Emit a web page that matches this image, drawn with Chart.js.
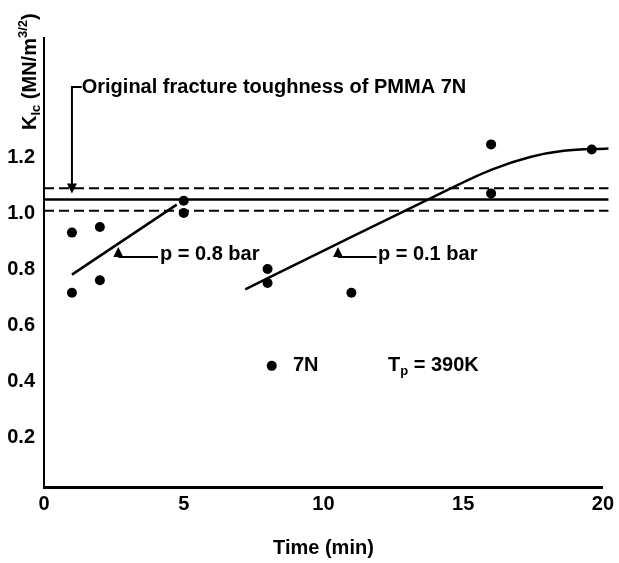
<!DOCTYPE html>
<html>
<head>
<meta charset="utf-8">
<script src="https://cdn.jsdelivr.net/npm/chart.js@4.4.1/dist/chart.umd.min.js"></script>
<style>
  html, body { margin: 0; padding: 0; background: #fff; }
  canvas { display: block; }
</style>
</head>
<body>
<canvas id="kicChart" width="619" height="563"></canvas>
<script>
// K_Ic of PMMA 7N against time, Tp = 390K
const xTicks = [0, 5, 10, 15, 20];
const yTicks = [0.2, 0.4, 0.6, 0.8, 1.0, 1.2];

// measured points, p = 0.8 bar
const lowTimes = [1, 1, 2, 2, 5, 5];
const lowKic = [0.93, 0.715, 0.95, 0.76, 1.044, 1.0];

// measured points, p = 0.1 bar
const highTimes = [8, 8, 11, 16, 16, 19.6];
const highKic = [0.8, 0.75, 0.715, 1.245, 1.07, 1.227];

// fitted trend lines
const fitLowTimes = [1, 4.75];
const fitLowKic = [0.78, 1.03];
const fitHighTimes = [7.2, 10.5, 13.7, 16, 17.4, 18.6, 20.2];
const fitHighKic = [0.727, 0.89, 1.046, 1.154, 1.2, 1.222, 1.23];

// original fracture toughness band
const bandTimes = [0, 20.2];
const bandMid = [1.048, 1.048];
const bandUpper = [1.088, 1.088];
const bandLower = [1.008, 1.008];

const FONT = "'Liberation Sans', Arial, sans-serif";

function toPoints(xs, ys) {
  return xs.map((t, i) => ({ x: t, y: ys[i] }));
}

function lineSet(xs, ys, dash, width) {
  return {
    data: toPoints(xs, ys),
    showLine: true,
    borderColor: "#000",
    borderWidth: width,
    borderDash: dash,
    pointRadius: 0,
    clip: false,
  };
}

function dotSet(xs, ys) {
  return {
    data: toPoints(xs, ys),
    showLine: false,
    pointRadius: 5,
    pointBackgroundColor: "#000",
    pointBorderColor: "#000",
    borderWidth: 0,
  };
}

function triangleUp(ctx, tx, ty, h, w) {
  ctx.beginPath();
  ctx.moveTo(tx, ty);
  ctx.lineTo(tx - w / 2, ty + h);
  ctx.lineTo(tx + w / 2, ty + h);
  ctx.closePath();
  ctx.fill();
}

// arrows, labels and the little key inside the plot
const annotations = {
  id: "annotations",
  afterDatasetsDraw(chart) {
    const { ctx, scales: { x, y } } = chart;
    ctx.save();
    ctx.fillStyle = "#000";
    ctx.strokeStyle = "#000";
    ctx.lineWidth = 2;
    ctx.font = "bold 20px " + FONT;
    ctx.textBaseline = "middle";
    ctx.textAlign = "left";

    // original toughness arrow
    const ax = x.getPixelForValue(1);
    const aTop = y.getPixelForValue(1.45);
    const aTip = y.getPixelForValue(1.07);
    ctx.beginPath();
    ctx.moveTo(x.getPixelForValue(1.35), aTop);
    ctx.lineTo(ax, aTop);
    ctx.lineTo(ax, aTip - 8);
    ctx.stroke();
    ctx.beginPath();
    ctx.moveTo(ax, aTip);
    ctx.lineTo(ax - 5, aTip - 10);
    ctx.lineTo(ax + 5, aTip - 10);
    ctx.closePath();
    ctx.fill();
    ctx.fillText("Original fracture toughness of PMMA 7N", x.getPixelForValue(1.35), aTop);

    // pressure labels
    const tags = [
      { tx: 2.66, ty: 0.879, lineEnd: 4.08, textX: 4.15, text: "p = 0.8 bar" },
      { tx: 10.52, ty: 0.879, lineEnd: 11.9, textX: 11.95, text: "p = 0.1 bar" },
    ];
    tags.forEach((t) => {
      const px = x.getPixelForValue(t.tx);
      const py = y.getPixelForValue(t.ty);
      triangleUp(ctx, px, py, 10, 10);
      ctx.beginPath();
      ctx.moveTo(px, py + 10);
      ctx.lineTo(x.getPixelForValue(t.lineEnd), py + 10);
      ctx.stroke();
      ctx.fillText(t.text, x.getPixelForValue(t.textX), py + 8);
    });

    // key
    const ky = y.getPixelForValue(0.454);
    ctx.beginPath();
    ctx.arc(x.getPixelForValue(8.15), ky, 5, 0, Math.PI * 2);
    ctx.fill();
    ctx.fillText("7N", x.getPixelForValue(8.91), ky);
    let tx = x.getPixelForValue(12.31);
    ctx.fillText("T", tx, ky);
    tx += ctx.measureText("T").width;
    ctx.font = "bold 13px " + FONT;
    ctx.fillText("p", tx, ky + 6);
    tx += ctx.measureText("p").width;
    ctx.font = "bold 20px " + FONT;
    ctx.fillText(" = 390K", tx, ky);

    // y axis title, rotated
    const area = chart.chartArea;
    ctx.translate(area.left - 8, area.top + 92);
    ctx.rotate(-Math.PI / 2);
    ctx.textBaseline = "alphabetic";
    let cx = 0;
    ctx.font = "bold 20px " + FONT;
    ctx.fillText("K", cx, 0);
    cx += ctx.measureText("K").width;
    ctx.font = "bold 13px " + FONT;
    ctx.fillText("Ic", cx, 4);
    cx += ctx.measureText("Ic").width;
    ctx.font = "bold 20px " + FONT;
    ctx.fillText(" (MN/m", cx, 0);
    cx += ctx.measureText(" (MN/m").width;
    ctx.font = "bold 13px " + FONT;
    ctx.fillText("3/2", cx, -9);
    cx += ctx.measureText("3/2").width;
    ctx.font = "bold 20px " + FONT;
    ctx.fillText(")", cx, 0);

    ctx.restore();
  },
};

const ctx = document.getElementById("kicChart").getContext("2d");

new Chart(ctx, {
  type: "scatter",
  data: {
    datasets: [
      lineSet(bandTimes, bandUpper, [10, 5], 2),
      lineSet(bandTimes, bandMid, [], 2.5),
      lineSet(bandTimes, bandLower, [10, 5], 2),
      lineSet(fitLowTimes, fitLowKic, [], 2.5),
      Object.assign(lineSet(fitHighTimes, fitHighKic, [], 2.5), {
        cubicInterpolationMode: "monotone",
      }),
      dotSet(lowTimes, lowKic),
      dotSet(highTimes, highKic),
    ],
  },
  options: {
    responsive: false,
    animation: false,
    layout: { padding: { top: 38, right: 16, left: 0, bottom: 0 } },
    plugins: {
      legend: { display: false },
      tooltip: { enabled: false },
    },
    scales: {
      x: {
        type: "linear",
        min: 0,
        max: 20,
        afterBuildTicks: (scale) => {
          scale.ticks = xTicks.map((v) => ({ value: v }));
        },
        afterFit: (scale) => {
          scale.height = 76;
        },
        grid: { display: false, drawTicks: false },
        border: { display: true, color: "#000", width: 3 },
        ticks: {
          color: "#000",
          padding: 5,
          maxRotation: 0,
          font: { family: FONT, size: 20, weight: "bold" },
          callback: (v) => String(v),
        },
        title: {
          display: true,
          text: "Time (min)",
          color: "#000",
          font: { family: FONT, size: 20, weight: "bold" },
          padding: { top: 0, bottom: 3 },
        },
      },
      y: {
        type: "linear",
        min: 0.0214,
        max: 1.625,
        afterBuildTicks: (scale) => {
          scale.ticks = yTicks.map((v) => ({ value: v }));
        },
        afterFit: (scale) => {
          scale.width = 44;
        },
        grid: { display: false, drawTicks: false },
        border: { display: true, color: "#000", width: 2 },
        ticks: {
          color: "#000",
          padding: 9,
          font: { family: FONT, size: 20, weight: "bold" },
          callback: (v) => Number(v).toFixed(1),
        },
      },
    },
  },
  plugins: [annotations],
});
</script>
</body>
</html>
